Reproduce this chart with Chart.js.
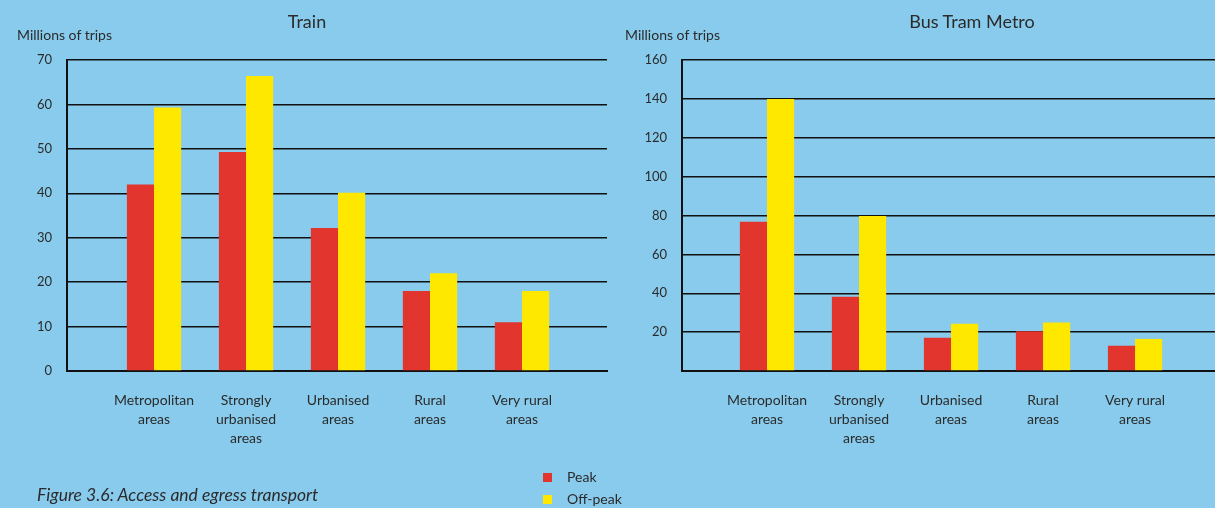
<!DOCTYPE html>
<html>
<head>
<meta charset="utf-8">
<script src="https://cdn.jsdelivr.net/npm/chart.js@4.4.0/dist/chart.umd.min.js"></script>
<style>
  html, body { margin:0; padding:0; }
  body { width:1215px; height:508px; background:#88CBEC; position:relative; overflow:hidden; font-family: Lato, "Open Sans", sans-serif; color:#2b2b2b; }
  .box { position:absolute; top:0; height:508px; }
  .t { position:absolute; white-space:nowrap; }
  .title { font-size:18px; top:10px; transform:translateX(-50%); }
  .ylab { font-size:14px; top:26px; }
  .cap { font-size:17.5px; font-style:italic; left:37px; top:484px; }
  .leg { font-size:14px; left:567px; }
  .sw { position:absolute; width:9px; height:9px; left:543px; }
</style>
</head>
<body>
<div class="box" style="left:0;width:610px;"><canvas id="c1"></canvas></div>
<div class="box" style="left:610px;width:605px;"><canvas id="c2"></canvas></div>
<div class="t title" style="left:307px;">Train</div>
<div class="t title" style="left:972px;">Bus Tram Metro</div>
<div class="t ylab" style="left:17px;">Millions of trips</div>
<div class="t ylab" style="left:625px;">Millions of trips</div>
<div class="t cap">Figure 3.6: Access and egress transport</div>
<div class="sw" style="top:473px;background:#E1352E;"></div>
<div class="t leg" style="top:468px;">Peak</div>
<div class="sw" style="top:495px;background:#FFE800;"></div>
<div class="t leg" style="top:490px;">Off-peak</div>
<script>
const categories = [
  ["Metropolitan", "areas"],
  ["Strongly", "urbanised", "areas"],
  ["Urbanised", "areas"],
  ["Rural", "areas"],
  ["Very rural", "areas"]
];
const seriesNames = ["Peak", "Off-peak"];
const trainPeak    = [42, 49.3, 32.2, 18, 11];
const trainOffPeak = [59.3, 66.4, 40.1, 22, 18];
const btmPeak      = [76.8, 38.2, 17.1, 20.4, 13];
const btmOffPeak   = [140, 79.8, 24.3, 24.9, 16.5];
const trainTicks = [0, 10, 20, 30, 40, 50, 60, 70];
const btmTicks   = [20, 40, 60, 80, 100, 120, 140, 160];

const RED = "#E1352E", YELLOW = "#FFE800", TXT = "#2b2b2b";
const FONT = "Lato, 'Open Sans', sans-serif";

function makeChart(id, peak, off, yMax, showZero, xMin, xMax, yWidth, rightPad) {
  const toPts = arr => arr.map((v, i) => ({ x: i, y: v }));
  return new Chart(document.getElementById(id), {
    type: "bar",
    data: {
      datasets: [
        { label: seriesNames[0], data: toPts(peak), backgroundColor: RED, categoryPercentage: 0.59, barPercentage: 1 },
        { label: seriesNames[1], data: toPts(off), backgroundColor: YELLOW, categoryPercentage: 0.59, barPercentage: 1 }
      ]
    },
    options: {
      responsive: true,
      maintainAspectRatio: false,
      animation: false,
      layout: { padding: { left: 0, right: rightPad, top: 60, bottom: 0 } },
      plugins: { legend: { display: false }, tooltip: { enabled: false }, title: { display: false } },
      scales: {
        x: {
          type: "linear",
          offset: false,
          min: xMin, max: xMax,
          grid: { display: false, drawTicks: false, offset: false },
          border: { display: true, color: "#111", width: 2 },
          afterBuildTicks: s => { s.ticks = categories.map((c, i) => ({ value: i })); },
          afterFit: s => { s.height = 137; },
          ticks: {
            padding: 20,
            color: TXT,
            maxRotation: 0,
            autoSkip: false,
            font: { family: FONT, size: 14, lineHeight: 1.35 },
            callback: v => categories[v]
          }
        },
        y: {
          min: 0, max: yMax,
          afterBuildTicks: s => { s.ticks = (showZero ? trainTicks : [0].concat(btmTicks)).map(v => ({ value: v })); },
          afterFit: s => { s.width = yWidth; },
          grid: { color: "#111", lineWidth: 1.5, drawTicks: false },
          border: { display: true, color: "#111", width: 2 },
          ticks: {
            padding: 15,
            color: TXT,
            font: { family: FONT, size: 13 },
            callback: v => (v === 0 && !showZero) ? "" : String(v)
          }
        }
      }
    }
  });
}

makeChart("c1", trainPeak, trainOffPeak, 70, true, -0.946, 4.924, 67, 3);
makeChart("c2", btmPeak, btmOffPeak, 160, false, -0.924, 4.869, 72, 0);
</script>
</body>
</html>
